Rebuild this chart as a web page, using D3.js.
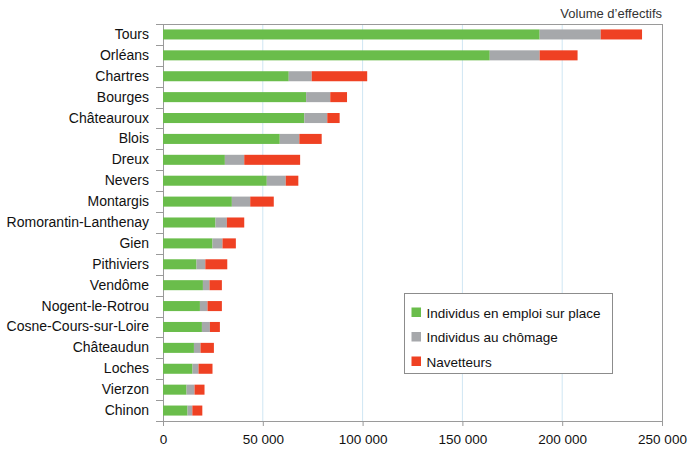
<!DOCTYPE html>
<html>
<head>
<meta charset="utf-8">
<script src="https://cdn.jsdelivr.net/npm/d3@7"></script>
<style>
  html, body { margin: 0; padding: 0; background: #fff; }
  svg { display: block; font-family: "Liberation Sans", Arial, sans-serif; }
</style>
</head>
<body>
<svg id="chart" width="688" height="450"></svg>
<script>
// Villes (ordre d'affichage, de haut en bas)
const cities = ['Tours', 'Orléans', 'Chartres', 'Bourges', 'Châteauroux', 'Blois', 'Dreux',
  'Nevers', 'Montargis', 'Romorantin-Lanthenay', 'Gien', 'Pithiviers', 'Vendôme',
  'Nogent-le-Rotrou', 'Cosne-Cours-sur-Loire', 'Châteaudun', 'Loches', 'Vierzon', 'Chinon'];

// Effectifs estimés par série
const emploi   = [188700, 163700, 63000, 71700, 70800, 58500, 31000, 52000, 34500, 26300,
  24800, 16800, 20000, 18500, 19500, 15500, 14800, 11800, 12300];
const chomage  = [30600, 25000, 11500, 12100, 11500, 9800, 9700, 9500, 9200, 5700,
  5000, 4400, 3300, 3800, 4000, 3300, 3000, 4000, 2400];
const navettes = [20700, 19000, 27800, 8400, 6200, 11200, 28000, 6300, 11800, 8700,
  6700, 11000, 6200, 7200, 5000, 6700, 7000, 5000, 5000];

const seriesNames = ['Individus en emploi sur place', 'Individus au chômage', 'Navetteurs'];
const seriesColors = ['#6abd4b', '#a6a8ab', '#ef4123'];
const xTicks = [0, 50000, 100000, 150000, 200000, 250000];

const svg = d3.select('#chart');
const m = { top: 24, right: 26, bottom: 29, left: 163 };
const W = 688, H = 450;
const iw = W - m.left - m.right, ih = H - m.top - m.bottom;
const g = svg.append('g').attr('transform', `translate(${m.left},${m.top})`);

const x = d3.scaleLinear().domain([0, 250000]).range([0, iw]);
const y = d3.scaleBand().domain(cities).range([0, ih]).paddingInner(0.52).paddingOuter(0.26);

const fmt = v => d3.format(',')(v).replace(/,/g, ' ');

// Grille verticale
g.selectAll('line.grid').data(xTicks.slice(1, -1)).join('line')
  .attr('x1', d => x(d)).attr('x2', d => x(d))
  .attr('y1', 0).attr('y2', ih)
  .attr('stroke', '#cfe6f3').attr('stroke-width', 1);

// Cadre
g.append('rect').attr('x', 0.5).attr('y', 0.5).attr('width', iw).attr('height', ih)
  .attr('fill', 'none').attr('stroke', '#9a9a9a').attr('stroke-width', 1);

// Barres empilées
const rows = cities.map((c, i) => ({ city: c, vals: [emploi[i], chomage[i], navettes[i]] }));
const stack = d3.stack().keys([0, 1, 2]).value((d, k) => d.vals[k]);
const layers = stack(rows);
layers.forEach((layer, k) => {
  g.append('g').selectAll('rect').data(layer).join('rect')
    .attr('x', d => x(d[0]))
    .attr('y', d => y(d.data.city))
    .attr('width', d => x(d[1]) - x(d[0]))
    .attr('height', y.bandwidth())
    .attr('fill', seriesColors[k]);
});

// Axe Y
const yAxis = g.append('g').call(
  d3.axisLeft(y).tickSize(0).tickPadding(14)
);
yAxis.select('.domain').remove();
yAxis.selectAll('text').attr('font-size', 14).attr('fill', '#111')
  .attr('font-family', '"Liberation Sans", Arial, sans-serif');
// petites graduations entre les catégories
g.selectAll('line.ytick').data(d3.range(cities.length + 1)).join('line')
  .attr('x1', -7).attr('x2', 0)
  .attr('y1', (d, i) => Math.round(i * ih / cities.length) + 0.5)
  .attr('y2', (d, i) => Math.round(i * ih / cities.length) + 0.5)
  .attr('stroke', '#9a9a9a');

// Axe X
const xAxis = g.append('g').attr('transform', `translate(0,${ih})`).call(
  d3.axisBottom(x).tickValues(xTicks).tickFormat(fmt).tickSize(5).tickPadding(8)
);
xAxis.select('.domain').remove();
xAxis.selectAll('line').attr('stroke', '#9a9a9a');
xAxis.selectAll('text').attr('font-size', 13.5).attr('fill', '#111')
  .attr('font-family', '"Liberation Sans", Arial, sans-serif');

// Titre d'unité
svg.append('text')
  .attr('x', m.left + iw).attr('y', 18)
  .attr('text-anchor', 'end').attr('font-size', 13).attr('fill', '#333')
  .text('Volume d\u2019effectifs');

// Légende
const lg = svg.append('g').attr('transform', 'translate(404.5,293.5)');
lg.append('rect').attr('width', 208).attr('height', 80)
  .attr('fill', '#fff').attr('stroke', '#8c8c8c');
seriesNames.forEach((n, i) => {
  const row = lg.append('g').attr('transform', `translate(7,${19 + i * 24.5})`);
  row.append('rect').attr('x', 0).attr('y', -5).attr('width', 9.5).attr('height', 9.5)
    .attr('fill', seriesColors[i]);
  row.append('text').attr('x', 15).attr('y', 5).attr('font-size', 13.5).attr('fill', '#111')
    .text(n);
});
</script>
</body>
</html>
